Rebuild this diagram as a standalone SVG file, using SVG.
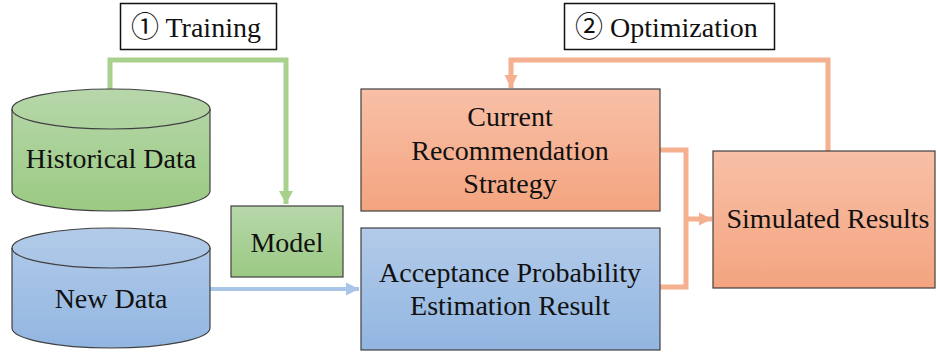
<svg xmlns="http://www.w3.org/2000/svg" width="937" height="356" viewBox="0 0 937 356">
<style>
text{font-family:'Liberation Serif','Noto Sans CJK JP',serif;font-size:28px;fill:#111;}
.c{text-anchor:middle;}
.box{stroke:#404040;stroke-width:1.2;}
.title{fill:#fff;stroke:#111;stroke-width:1.5;}
.cn{fill:none;stroke-width:5;}
</style>
<defs>
<linearGradient id="gG" x1="0" y1="0" x2="0" y2="1"><stop offset="0" stop-color="#b7d7aa"/><stop offset="1" stop-color="#9bca83"/></linearGradient>
<linearGradient id="gB" x1="0" y1="0" x2="0" y2="1"><stop offset="0" stop-color="#b3cbe9"/><stop offset="1" stop-color="#92b6e1"/></linearGradient>
<linearGradient id="gO" x1="0" y1="0" x2="0" y2="1"><stop offset="0" stop-color="#f8c0a7"/><stop offset="1" stop-color="#f4a47f"/></linearGradient>
<marker id="aG" markerUnits="userSpaceOnUse" markerWidth="14" markerHeight="14" refX="13" refY="7" orient="auto"><path d="M0,0 L13,7 L0,14 Z" fill="#a9d18e"/></marker>
<marker id="aB" markerUnits="userSpaceOnUse" markerWidth="14" markerHeight="14" refX="13" refY="7" orient="auto"><path d="M0,0.5 L13,7 L0,13.5 Z" fill="#a9c5e8"/></marker>
<marker id="aO" markerUnits="userSpaceOnUse" markerWidth="14" markerHeight="14" refX="13" refY="7" orient="auto"><path d="M0,0.5 L13,7 L0,13.5 Z" fill="#f4b08f"/></marker>
</defs>
<g id="connectors">
<path class="cn" stroke="#a9d18e" d="M110,90 V60 H286 V204" marker-end="url(#aG)"/>
<path class="cn" stroke="#a9c5e8" d="M210,289 H359" marker-end="url(#aB)" style="stroke-width:4"/>
<path class="cn" stroke="#f4b08f" d="M660,150 H686 V287 H660"/>
<path class="cn" stroke="#f4b08f" d="M686,219 H712" marker-end="url(#aO)"/>
<path class="cn" stroke="#f4b08f" d="M828,151 V60 H511 V88" marker-end="url(#aO)"/>
</g>
<g id="title-training">
<rect class="title" x="120.5" y="3.5" width="156" height="46"/>
<text x="131" y="37">&#9312; Training</text>
</g>
<g id="title-optimization">
<rect class="title" x="564.5" y="3.5" width="210" height="46"/>
<text x="575" y="37">&#9313; Optimization</text>
</g>
<g id="historical-data">
<path class="box" fill="url(#gG)" d="M12,109 A99,20 0 0 1 210,109 V191 A99,20 0 0 1 12,191 Z"/>
<path class="box" fill="none" d="M12,109 A99,20 0 0 0 210,109"/>
<text class="c" x="111" y="168">Historical Data</text>
</g>
<g id="new-data">
<path class="box" fill="url(#gB)" d="M12,248 A99,20 0 0 1 210,248 V328 A99,20 0 0 1 12,328 Z"/>
<path class="box" fill="none" d="M12,248 A99,20 0 0 0 210,248"/>
<text class="c" x="111" y="308">New Data</text>
</g>
<g id="model">
<rect class="box" fill="url(#gG)" x="231" y="206" width="112" height="71"/>
<text class="c" x="287" y="252">Model</text>
</g>
<g id="current-strategy">
<rect class="box" fill="url(#gO)" x="361" y="89" width="299" height="122"/>
<text class="c" x="510" y="126">Current</text>
<text class="c" x="510" y="160">Recommendation</text>
<text class="c" x="510" y="193">Strategy</text>
</g>
<g id="acceptance">
<rect class="box" fill="url(#gB)" x="361" y="228" width="299" height="122"/>
<text class="c" x="510" y="282">Acceptance Probability</text>
<text class="c" x="510" y="315">Estimation Result</text>
</g>
<g id="simulated">
<rect class="box" fill="url(#gO)" x="713" y="151" width="222" height="137"/>
<text class="c" x="828" y="228">Simulated Results</text>
</g>
</svg>
